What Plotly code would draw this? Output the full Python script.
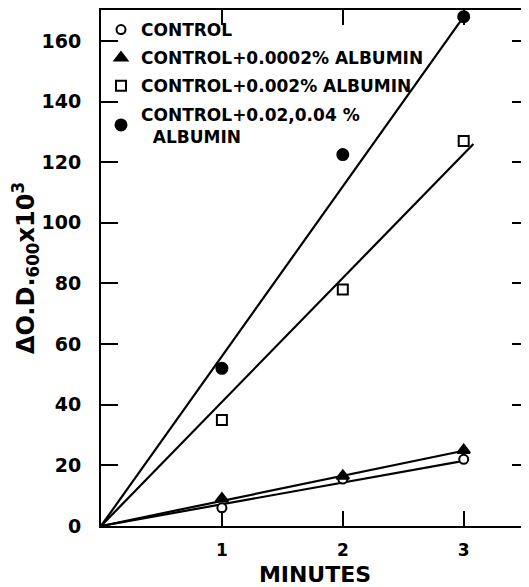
import plotly.graph_objects as go

# Data
minutes = [1, 2, 3]
control = [6, 15.5, 22]
alb_0002 = [9, 16.5, 25]
alb_002 = [35, 78, 127]
alb_002_004 = [52, 122.5, 168]

# fitted straight lines (start, end)
fit_control_x = [0, 3.0]
fit_control_y = [0, 21.5]
fit_0002_x = [0, 3.02]
fit_0002_y = [0, 25]
fit_002_x = [0, 3.08]
fit_002_y = [0, 126]
fit_004_x = [0, 3.0]
fit_004_y = [0, 168]

names = ["CONTROL",
         "CONTROL+0.0002% ALBUMIN",
         "CONTROL+0.002% ALBUMIN",
         "CONTROL+0.02,0.04 %<br>&nbsp;&nbsp;ALBUMIN"]

yticks = [0, 20, 40, 60, 80, 100, 120, 140, 160]
xticks = [1, 2, 3]
xtick_labels = ["1", "2", "3"]

FONT = "DejaVu Sans"
fig = go.Figure()

for fx, fy in [(fit_control_x, fit_control_y), (fit_0002_x, fit_0002_y),
               (fit_002_x, fit_002_y), (fit_004_x, fit_004_y)]:
    fig.add_trace(go.Scatter(x=fx, y=fy, mode="lines",
                             line=dict(color="black", width=2.2),
                             showlegend=False, hoverinfo="skip"))

series = [
    (control, "circle", 9, "white"),
    (alb_0002, "triangle-up", 11, "black"),
    (alb_002, "square", 10, "white"),
    (alb_002_004, "circle", 11, "black"),
]
for i, (vals, sym, sz, fill) in enumerate(series):
    fig.add_trace(go.Scatter(
        x=minutes, y=vals, mode="markers", name=names[i],
        legendgroup=f"g{i}",
        marker=dict(symbol=sym, size=sz, color=fill,
                    line=dict(color="black", width=2)),
        cliponaxis=False))

# the page body has an 8px margin; figure is sized so the chart fills 529x587
fig.update_layout(
    width=521, height=579,
    margin=dict(l=93, r=0, t=2, b=61, autoexpand=False),
    paper_bgcolor="white", plot_bgcolor="white",
    font=dict(family=FONT, color="black", weight="bold"),
    showlegend=True,
    legend=dict(x=0.0, y=0.996, xanchor="left", yanchor="top",
                bgcolor="rgba(0,0,0,0)", traceorder="grouped",
                tracegroupgap=3,
                font=dict(family=FONT, size=17, color="black", weight="bold")),
    xaxis=dict(range=[0, 3.54], tickvals=xticks, ticktext=xtick_labels,
               ticks="inside", ticklen=15, tickwidth=2, tickcolor="black",
               showline=True, linecolor="black", linewidth=2, mirror="ticks",
               showgrid=False, zeroline=False,
               tickfont=dict(family=FONT, size=17, weight="bold"),
               ticklabelstandoff=8,
               title=dict(text="MINUTES",
                          font=dict(family=FONT, size=22, weight="bold"),
                          standoff=8)),
    yaxis=dict(range=[0, 170.2], tickvals=yticks,
               ticks="inside", ticklen=17, tickwidth=2, tickcolor="black",
               showline=True, linecolor="black", linewidth=2, mirror="ticks",
               showgrid=False, zeroline=False,
               tickfont=dict(family=FONT, size=19, weight="bold"),
               ticklabelstandoff=14,
               title=dict(text="ΔO.D.<sub>600</sub>x10<sup>3</sup>",
                          font=dict(family=FONT, size=24, weight="bold"),
                          standoff=2)),
)

fig.write_html("out.html")
